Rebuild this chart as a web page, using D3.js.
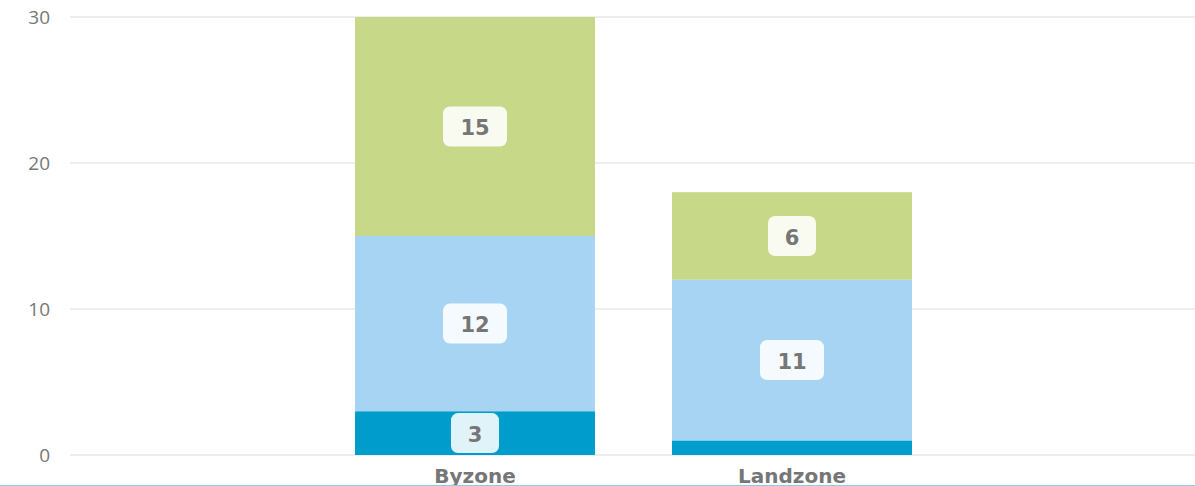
<!DOCTYPE html>
<html>
<head>
<meta charset="utf-8">
<script src="https://cdn.jsdelivr.net/npm/d3@7/dist/d3.min.js"></script>
<style>
  html, body { margin: 0; padding: 0; background: #fff; overflow: hidden; }
  svg { display: block; }
</style>
</head>
<body>
<svg id="chart" width="1195" height="486"></svg>
<script>
// Zone categories and stacked series values
const categories = ["Byzone", "Landzone"];
const seriesNames = ["Lav", "Middel", "Høj"];
const seriesLav = [3, 1];
const seriesMiddel = [12, 11];
const seriesHoj = [15, 6];
const yTicks = [0, 10, 20, 30];

const colors = ["#009ccc", "#a8d4f4", "#c8d889"];

const svg = d3.select("#chart");
const W = 1195, H = 486;

const rows = categories.map((c, i) => ({
  cat: c, Lav: seriesLav[i], Middel: seriesMiddel[i], "Høj": seriesHoj[i]
}));
const stacked = d3.stack().keys(seriesNames)(rows);

const y = d3.scaleLinear().domain([0, 30]).range([455, 17]);
const x = d3.scaleBand().domain(categories)
  .range([316.5, 950.5]).paddingInner(0.243).paddingOuter(0.1215);

// Gridlines
svg.append("g").selectAll("line").data(yTicks).join("line")
  .attr("x1", 70).attr("x2", W)
  .attr("y1", d => y(d)).attr("y2", d => y(d))
  .attr("stroke", "#e8e8e8").attr("stroke-width", 1.6);

// Y-axis labels
const yAxis = d3.axisLeft(y).tickValues(yTicks).tickSize(0).tickPadding(0);
const gy = svg.append("g").attr("transform", "translate(50,0)").call(yAxis);
gy.select(".domain").remove();
gy.selectAll("text")
  .attr("fill", "#787878")
  .style("font-family", "'Open Sans', sans-serif")
  .style("font-size", "19px");

// Stacked bars
const layers = svg.append("g").selectAll("g").data(stacked).join("g")
  .attr("fill", (d, i) => colors[i]);
layers.selectAll("rect").data(d => d).join("rect")
  .attr("x", d => x(d.data.cat))
  .attr("width", x.bandwidth())
  .attr("y", d => y(d[1]))
  .attr("height", d => y(d[0]) - y(d[1]));

// Value labels in rounded boxes (skip segments too thin to hold one)
const labels = [];
stacked.forEach(layer => {
  layer.forEach(d => {
    const v = d[1] - d[0];
    if (y(d[0]) - y(d[1]) >= 30) {
      labels.push({ v, cx: x(d.data.cat) + x.bandwidth() / 2, cy: (y(d[0]) + y(d[1])) / 2 });
    }
  });
});
const lg = svg.append("g").selectAll("g").data(labels).join("g")
  .attr("transform", d => `translate(${d.cx},${d.cy})`);
lg.append("rect")
  .attr("x", d => -(String(d.v).length > 1 ? 32 : 24))
  .attr("width", d => String(d.v).length > 1 ? 64 : 48)
  .attr("y", -20).attr("height", 40)
  .attr("rx", 7).attr("ry", 7)
  .attr("fill", "#ffffff").attr("fill-opacity", 0.88);
lg.append("text")
  .attr("text-anchor", "middle").attr("dy", "0.36em").attr("y", 1)
  .attr("fill", "#767676")
  .style("font-family", "'DejaVu Sans', sans-serif")
  .style("font-weight", "bold")
  .style("font-size", "21px")
  .text(d => d.v);

// Category labels
const xAxis = d3.axisBottom(x).tickSize(0).tickPadding(0);
const gx = svg.append("g").attr("transform", "translate(0,469)").call(xAxis);
gx.select(".domain").remove();
gx.selectAll("text")
  .attr("fill", "#767676")
  .style("font-family", "'DejaVu Sans', sans-serif")
  .style("font-weight", "bold")
  .style("font-size", "20px");

// Bottom rule
svg.append("line").attr("x1", 0).attr("x2", W).attr("y1", 485.5).attr("y2", 485.5)
  .attr("stroke", "#8fcbe6").attr("stroke-width", 1);
</script>
</body>
</html>
